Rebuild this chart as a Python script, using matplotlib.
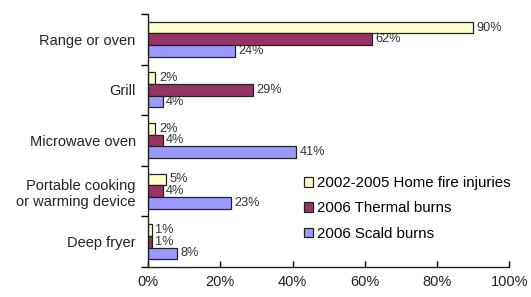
import matplotlib.pyplot as plt
import numpy as np

plt.rcParams['font.family'] = ['Liberation Sans', 'DejaVu Sans']

categorias = ["Range or oven", "Grill", "Microwave oven",
              "Portable cooking\nor warming device", "Deep fryer"]
series = ["2002-2005 Home fire injuries", "2006 Thermal burns", "2006 Scald burns"]
lesiones_hogar = [90, 2, 2, 5, 1]
quemaduras_termicas = [62, 29, 4, 4, 1]
quemaduras_escaldadura = [24, 4, 41, 23, 8]
colores = ["#FFFFCC", "#993366", "#9999FF"]

fig = plt.figure(figsize=(5.31, 2.97), dpi=100)
ax = fig.add_axes([0.279, 0.101, 0.68, 0.852])

n = len(categorias)
y = np.arange(n)[::-1]
alto = 0.23
valores = [lesiones_hogar, quemaduras_termicas, quemaduras_escaldadura]
for i, (vals, nombre, c) in enumerate(zip(valores, series, colores)):
    pos = y + (1 - i) * alto
    ax.barh(pos, vals, height=alto, color=c, edgecolor="#222222", linewidth=0.9, label=nombre)
    for p, v in zip(pos, vals):
        ax.text(v + 1.0, p, f"{v}%", va="center", ha="left", fontsize=9.2, color="#333333")

ax.set_xlim(0, 100)
ax.set_ylim(-0.5, n - 0.5)
ax.set_xticks(range(0, 101, 20))
ax.set_xticklabels([f"{t}%" for t in range(0, 101, 20)], fontsize=10.5, color="#222222")
ax.set_yticks(y)
ax.set_yticklabels(categorias, fontsize=10.5, color="#222222")
ax.set_yticks(np.arange(-0.5, n, 1), minor=True)
ax.tick_params(axis="y", which="major", length=0, pad=9)
ax.tick_params(axis="y", which="minor", length=5, direction="out", width=1)
ax.tick_params(axis="x", direction="in", length=4, width=1, pad=6)
for s in ["top", "right"]:
    ax.spines[s].set_visible(False)
for s in ["left", "bottom"]:
    ax.spines[s].set_color("#222222")
    ax.spines[s].set_linewidth(1)

fig.legend(loc="upper left", bbox_to_anchor=(0.572, 0.407), frameon=False, fontsize=10.8,
           handlelength=0.6, handleheight=0.6, handletextpad=0.3, labelspacing=0.75,
           borderaxespad=0, borderpad=0)

fig.savefig("out.png", dpi=100)
